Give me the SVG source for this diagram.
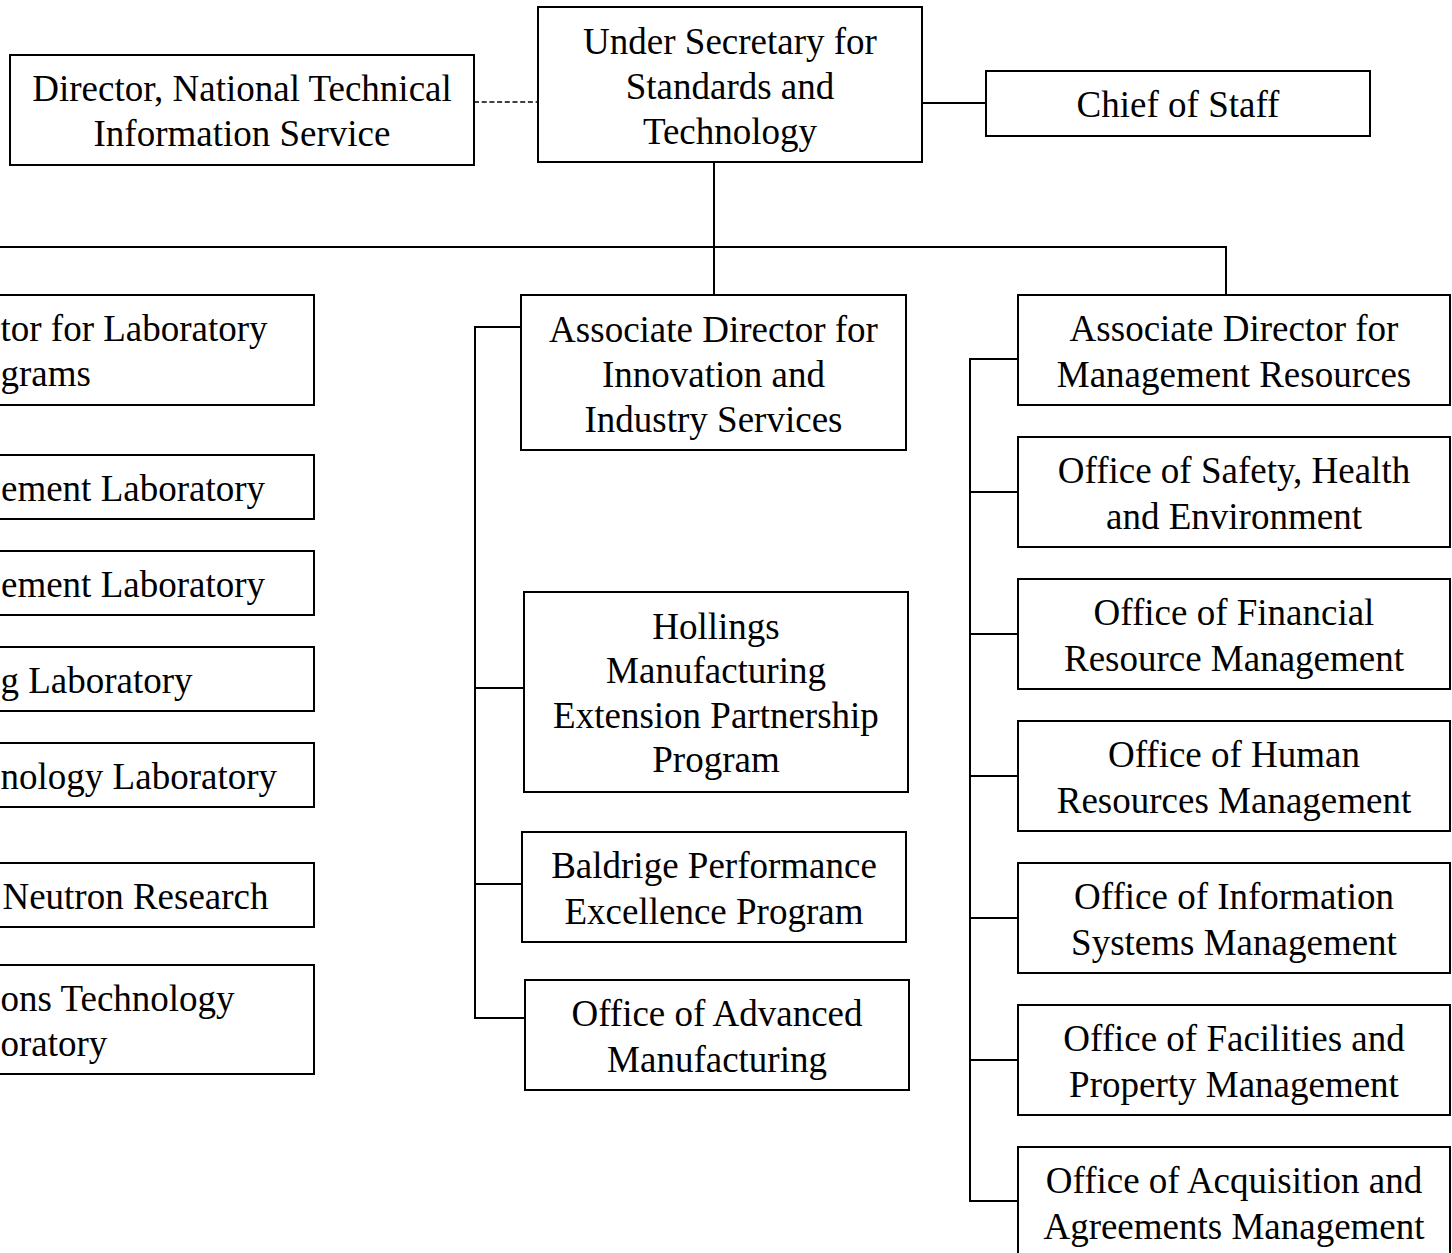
<svg xmlns="http://www.w3.org/2000/svg" width="1452" height="1253" viewBox="0 0 1452 1253">
<style>
.box{fill:#fff;stroke:#000;stroke-width:2}
.ln{fill:none;stroke:#000;stroke-width:2}
.dash{fill:none;stroke:#000;stroke-width:1.5;stroke-dasharray:5 2.7}
text{font-family:"Liberation Serif","Times New Roman",serif;font-size:37px;fill:#000}
.c{text-anchor:middle}
.e{text-anchor:end}
.s{text-anchor:start}
</style>
<rect width="1452" height="1253" fill="#fff"/>
<g id="connectors">
<line class="dash" x1="474" y1="102" x2="538" y2="102"/>
<line class="ln" x1="922" y1="103" x2="986" y2="103"/>
<polyline class="ln" points="714,162 714,295"/>
<polyline class="ln" points="-10,247 1226,247 1226,295"/>
<polyline class="ln" points="521,327 475,327 475,1018 525,1018"/>
<line class="ln" x1="475" y1="688" x2="524" y2="688"/>
<line class="ln" x1="475" y1="884" x2="522" y2="884"/>
<polyline class="ln" points="1018,359 970,359 970,1201 1018,1201"/>
<line class="ln" x1="970" y1="492" x2="1018" y2="492"/>
<line class="ln" x1="970" y1="634" x2="1018" y2="634"/>
<line class="ln" x1="970" y1="776" x2="1018" y2="776"/>
<line class="ln" x1="970" y1="918" x2="1018" y2="918"/>
<line class="ln" x1="970" y1="1060" x2="1018" y2="1060"/>
</g>
<g id="under-secretary">
<rect class="box" x="538" y="7" width="384" height="155"/>
<text class="c" x="730" y="53.5">Under Secretary for</text>
<text class="c" x="730" y="98.5">Standards and</text>
<text class="c" x="730" y="143.5">Technology</text>
</g>
<g id="ntis">
<rect class="box" x="10" y="55" width="464" height="110"/>
<text class="c" x="242" y="100.5">Director, National Technical</text>
<text class="c" x="242" y="146">Information Service</text>
</g>
<g id="chief-of-staff">
<rect class="box" x="986" y="71" width="384" height="65"/>
<text class="c" x="1178" y="117">Chief of Staff</text>
</g>
<g id="ad-lab-programs">
<rect class="box" x="-300" y="295" width="614" height="110"/>
<text class="s" x="0.5" y="341">tor for Laboratory</text>
<text class="s" x="0.5" y="386">grams</text>
</g>
<g id="pml">
<rect class="box" x="-300" y="455" width="614" height="64"/>
<text class="s" x="1" y="501">ement Laboratory</text>
</g>
<g id="mml">
<rect class="box" x="-300" y="551" width="614" height="64"/>
<text class="s" x="1" y="597">ement Laboratory</text>
</g>
<g id="el">
<rect class="box" x="-300" y="647" width="614" height="64"/>
<text class="s" x="0.5" y="693">g Laboratory</text>
</g>
<g id="itl">
<rect class="box" x="-300" y="743" width="614" height="64"/>
<text class="s" x="0.6" y="789">nology Laboratory</text>
</g>
<g id="ncnr">
<rect class="box" x="-300" y="863" width="614" height="64"/>
<text class="e" x="268.5" y="909">Neutron Research</text>
</g>
<g id="ctl">
<rect class="box" x="-300" y="965" width="614" height="109"/>
<text class="s" x="0.5" y="1011">ons Technology</text>
<text class="s" x="0.5" y="1056">oratory</text>
</g>
<g id="ad-innovation">
<rect class="box" x="521" y="295" width="385" height="155"/>
<text class="c" x="713.5" y="341.5">Associate Director for</text>
<text class="c" x="713.5" y="386.5">Innovation and</text>
<text class="c" x="713.5" y="431.5">Industry Services</text>
</g>
<g id="hollings">
<rect class="box" x="524" y="592" width="384" height="200"/>
<text class="c" x="716" y="638.5">Hollings</text>
<text class="c" x="716" y="683">Manufacturing</text>
<text class="c" x="716" y="727.5">Extension Partnership</text>
<text class="c" x="716" y="772">Program</text>
</g>
<g id="baldrige">
<rect class="box" x="522" y="832" width="384" height="110"/>
<text class="c" x="714" y="878">Baldrige Performance</text>
<text class="c" x="714" y="923.5">Excellence Program</text>
</g>
<g id="advanced-mfg">
<rect class="box" x="525" y="980" width="384" height="110"/>
<text class="c" x="717" y="1026">Office of Advanced</text>
<text class="c" x="717" y="1071.5">Manufacturing</text>
</g>
<g id="ad-management">
<rect class="box" x="1018" y="295" width="432" height="110"/>
<text class="c" x="1234" y="341">Associate Director for</text>
<text class="c" x="1234" y="386.5">Management Resources</text>
</g>
<g id="oshe">
<rect class="box" x="1018" y="437" width="432" height="110"/>
<text class="c" x="1234" y="483">Office of Safety, Health</text>
<text class="c" x="1234" y="528.5">and Environment</text>
</g>
<g id="ofrm">
<rect class="box" x="1018" y="579" width="432" height="110"/>
<text class="c" x="1234" y="625">Office of Financial</text>
<text class="c" x="1234" y="670.5">Resource Management</text>
</g>
<g id="ohrm">
<rect class="box" x="1018" y="721" width="432" height="110"/>
<text class="c" x="1234" y="767">Office of Human</text>
<text class="c" x="1234" y="812.5">Resources Management</text>
</g>
<g id="oism">
<rect class="box" x="1018" y="863" width="432" height="110"/>
<text class="c" x="1234" y="909">Office of Information</text>
<text class="c" x="1234" y="954.5">Systems Management</text>
</g>
<g id="ofpm">
<rect class="box" x="1018" y="1005" width="432" height="110"/>
<text class="c" x="1234" y="1051">Office of Facilities and</text>
<text class="c" x="1234" y="1096.5">Property Management</text>
</g>
<g id="oaam">
<rect class="box" x="1018" y="1147" width="432" height="110"/>
<text class="c" x="1234" y="1193">Office of Acquisition and</text>
<text class="c" x="1234" y="1238.5">Agreements Management</text>
</g>
</svg>
